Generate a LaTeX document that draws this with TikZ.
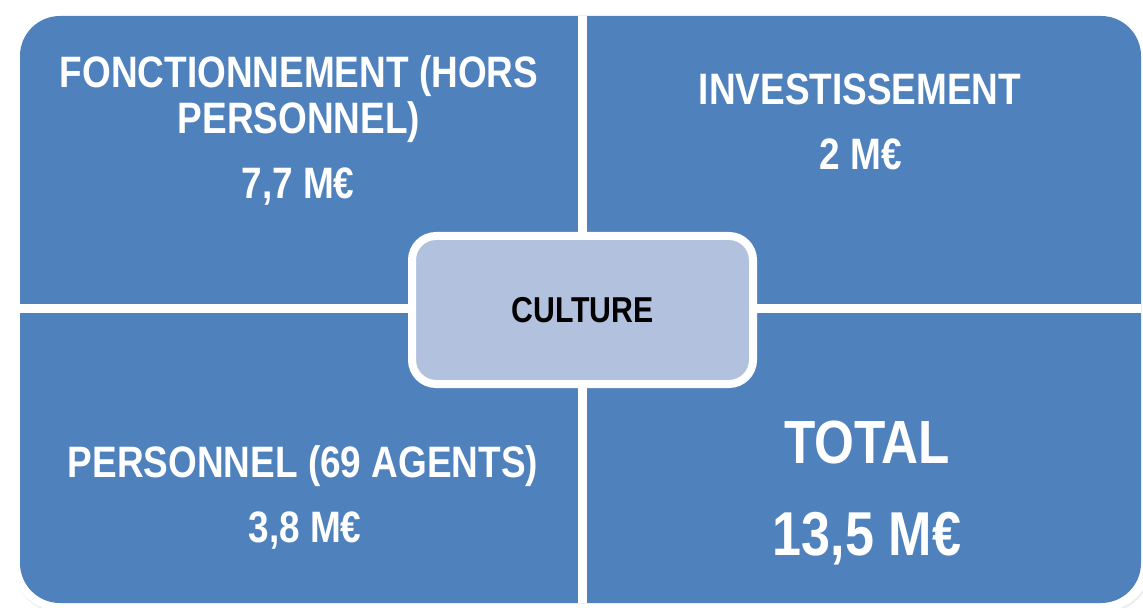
\documentclass[tikz,border=0pt]{standalone}
\usepackage{fontspec}
\setmainfont{Liberation Sans}[FakeStretch=0.84]
\usetikzlibrary{positioning, shadows}

\definecolor{quadblue}{RGB}{79,129,189}
\definecolor{hubblue}{RGB}{178,194,222}

\begin{document}
\begin{tikzpicture}[x=0.5pt, y=-0.5pt,
	quadtext/.style={text=white, font=\bfseries\fontsize{22}{23}\selectfont, align=center, anchor=base, inner sep=0pt},
	bigtext/.style={quadtext, font=\bfseries\fontsize{30.5}{33}\selectfont},
	hub/.style={draw=white, line width=4pt, fill=hubblue, rounded corners=12pt,
		minimum width=170.5pt, minimum height=74pt,
		drop shadow={opacity=0.35, shadow xshift=0.5pt, shadow yshift=-1.5pt}},
	sep/.style={white, line width=4.5pt}]
	\useasboundingbox (0,0) rectangle (1143,608);

	% outer frame and the four quadrants
	\fill[white, rounded corners=24pt, drop shadow={opacity=0.15, shadow xshift=0.5pt, shadow yshift=-1pt}]
		(12,8) rectangle (1151,611);
	\fill[quadblue, rounded corners=20pt] (20,16) rectangle (1141,603);
	\coordinate (top)    at (582.5,16);
	\coordinate (bottom) at (582.5,603);
	\coordinate (left)   at (20,309);
	\coordinate (right)  at (1141,309);
	\draw[sep] (top) -- (bottom);
	\draw[sep] (left) -- (right);

	% texts
	\node[quadtext] (fonc)    at (299,134) {FONCTIONNEMENT (HORS\\PERSONNEL)};
	\node[quadtext] (foncval) at (298,199) {7,7 M€};
	\node[quadtext] (invest)  at (860,105) {INVESTISSEMENT};
	\node[quadtext] (investval) at (861,170) {2 M€};
	\node[quadtext] (perso)   at (303,477) {PERSONNEL (69 AGENTS)};
	\node[quadtext] (persoval) at (305,542) {3,8 M€};
	\node[bigtext]  (total)   at (867,463) {TOTAL};
	\node[bigtext, font=\bfseries\fontsize{31}{34}\selectfont] (totalval) at (867,555) {13,5 M€};

	% centre
	\node[hub, font=\bfseries\fontsize{18}{20}\selectfont] (culture) at (582.5,310) {CULTURE};
\end{tikzpicture}
\end{document}
